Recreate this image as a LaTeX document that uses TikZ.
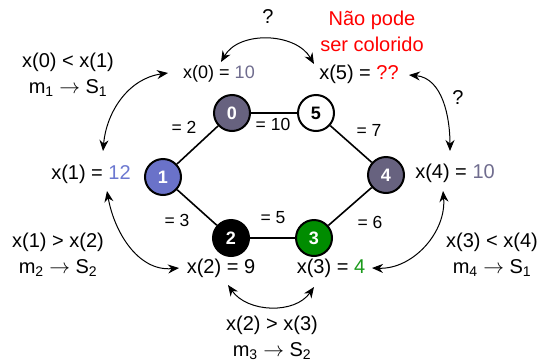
\documentclass[tikz,border=0pt]{standalone}
\usepackage{fontspec}
\setmainfont{Liberation Sans}
\usetikzlibrary{arrows.meta}
\definecolor{cgrey}{HTML}{67627F}
\definecolor{cblue}{HTML}{6A72C9}
\definecolor{cgreen}{HTML}{008C00}
\definecolor{tgrey}{HTML}{6F6C8E}
\definecolor{tblue}{HTML}{6C78D0}
\definecolor{tgreen}{HTML}{1A9A1A}
\begin{document}
\begin{tikzpicture}[x=1pt,y=-1pt,
  vtx/.style={circle, draw=black, line width=2pt, minimum size=36pt, inner sep=0pt,
    font=\fontsize{18}{18}\selectfont\bfseries, text=white},
  edge/.style={line width=1.6pt},
  elab/.style={font=\fontsize{17.5}{18}\selectfont, inner sep=0pt},
  vlab/.style={font=\fontsize{20}{22}\selectfont, inner sep=0pt},
  ann/.style={font=\fontsize{20}{26}\selectfont, inner sep=0pt, align=center},
  dbl/.style={line width=1pt, {Stealth[length=11pt,width=9pt]}-{Stealth[length=11pt,width=9pt]}}
]
\useasboundingbox (0,0) rectangle (538,362);
% vertices
\node[vtx, fill=cgrey] (n0) at (232,113) {0};
\node[vtx, fill=white, text=black] (n5) at (316,113) {5};
\node[vtx, fill=cblue] (n1) at (163,177) {1};
\node[vtx, fill=cgrey] (n4) at (386,175) {4};
\node[vtx, fill=black] (n2) at (231,238) {2};
\node[vtx, fill=cgreen] (n3) at (314,238) {3};
% edges
\begin{scope}[on background layer/.try]
\draw[edge] (n0) -- (n5);
\draw[edge] (n0) -- (n1);
\draw[edge] (n5) -- (n4);
\draw[edge] (n1) -- (n2);
\draw[edge] (n2) -- (n3);
\draw[edge] (n3) -- (n4);
\end{scope}
% edge labels
\node[elab] (e01) at (184,127) {= 2};
\node[elab] (e05) at (273,124) {= 10};
\node[elab] (e54) at (369,130) {= 7};
\node[elab] (e12) at (177,220) {= 3};
\node[elab] (e23) at (273,218) {= 5};
\node[elab] (e34) at (370,222) {= 6};
% value labels
\node[vlab, font=\fontsize{18}{20}\selectfont] (x0) at (219,74) {x(0) = \textcolor{tgrey}{10}};
\node[vlab] (x5) at (359,74) {x(5) = \textcolor{red}{??}};
\node[vlab] (x1) at (91,174) {x(1) = \textcolor{tblue}{12}};
\node[vlab] (x4) at (455,173) {x(4) = \textcolor{tgrey}{10}};
\node[vlab] (x2) at (221,268) {x(2) = 9};
\node[vlab] (x3) at (331,268) {x(3) = \textcolor{tgreen}{4}};
% annotations
\node[ann] (a1) at (68,75) {x(0) < x(1)\\m\textsubscript{1} \(\rightarrow\) S\textsubscript{1}};
\node[ann] (q1) at (268,17) {?};
\node[ann, text=red] (nc) at (372,31) {Não pode\\ser colorido};
\node[ann] (q2) at (458,98) {?};
\node[ann] (a2) at (58,255) {x(1) > x(2)\\m\textsubscript{2} \(\rightarrow\) S\textsubscript{2}};
\node[ann] (a4) at (492,255) {x(3) < x(4)\\m\textsubscript{4} \(\rightarrow\) S\textsubscript{1}};
\node[ann] (a3) at (272,338) {x(2) > x(3)\\m\textsubscript{3} \(\rightarrow\) S\textsubscript{2}};
% arrow end points
\coordinate (c0l) at (168,73);
\coordinate (c1t) at (103,151);
\coordinate (c0t) at (221,62);
\coordinate (c5t) at (314,64);
\coordinate (c5r) at (409,75);
\coordinate (c4t) at (450,151);
\coordinate (c1b) at (107,191);
\coordinate (c2l) at (179,268);
\coordinate (c2b) at (228,285);
\coordinate (c3b) at (314,287);
\coordinate (c3r) at (372,268);
\coordinate (c4b) at (443,191);
% arrows
\draw[dbl] (c0l) to[out=188, in=85] (c1t);
\draw[dbl] (c0t) to[out=60, in=120] (c5t);
\draw[dbl] (c5r) to[out=-5, in=90] (c4t);
\draw[dbl] (c1b) to[out=-80, in=185] (c2l);
\draw[dbl] (c2b) to[out=-55, in=-125] (c3b);
\draw[dbl] (c3r) to[out=-2, in=-85] (c4b);
\end{tikzpicture}
\end{document}
